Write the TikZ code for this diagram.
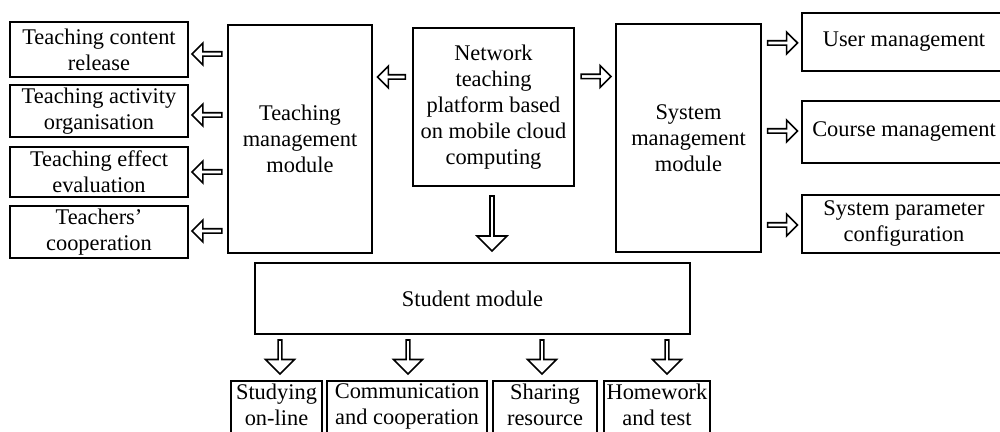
\documentclass[tikz,border=0pt]{standalone}
\usepackage{fontspec}
\setmainfont{Liberation Serif}
\usetikzlibrary{shapes.arrows,calc}
\tikzset{
  box/.style={draw, line width=0.9pt, align=center, inner sep=1pt,
    font=\fontsize{11.2}{13}\selectfont},
  leaf/.style={box, anchor=north, inner ysep=1.5pt, text depth=22pt},
  harrow/.style={draw, line width=0.8pt, single arrow, inner sep=0pt,
    single arrow head indent=0pt, minimum height=15pt, minimum width=11pt,
    single arrow head extend=1.6pt},
  varrow/.style={harrow, minimum height=17pt, minimum width=14.5pt,
    single arrow head extend=2.6pt},
}
\begin{document}
\begin{tikzpicture}[x=0.5pt,y=-0.5pt]
  \clip (0,0) rectangle (1000,432);
  % platform
  \node[box, minimum width=80.5pt, minimum height=79pt] (net) at (493.5,107)
    {Network\\teaching\\platform based\\on mobile cloud\\computing};
  % teaching management
  \node[box, minimum width=72pt, minimum height=114pt] (tm) at (300,139)
    {Teaching\\management\\module};
  \node[box, minimum width=89pt, minimum height=27.5pt] (tc1) at (99,49.5) {Teaching content\\release};
  \node[box, minimum width=89pt, minimum height=26pt] (tc2) at (99,111) {Teaching activity\\organisation};
  \node[box, minimum width=89pt, minimum height=25pt] (tc3) at (99,172) {Teaching effect\\evaluation};
  \node[box, minimum width=89pt, minimum height=26pt] (tc4) at (99,232) {Teachers’\\cooperation};
  % system management
  \node[box, minimum width=72.5pt, minimum height=114pt] (sm) at (688.5,138)
    {System\\management\\module};
  \node[box, minimum width=102pt, minimum height=29pt] (sc1) at (904,42) {User management};
  \node[box, minimum width=102pt, minimum height=31pt] (sc2) at (904,132) {Course management};
  \node[box, minimum width=102pt, minimum height=29pt] (sc3) at (904,224) {System parameter\\configuration};
  % student
  \node[box, minimum width=217.5pt, minimum height=35.5pt] (st) at (472.5,298.5) {Student module};
  \node[leaf, minimum width=45.5pt] (sd1) at (276.5,380) {Studying\\on-line};
  \node[leaf, minimum width=80pt] (sd2) at (407,380) {Communication\\and cooperation};
  \node[leaf, minimum width=52pt] (sd3) at (545,380) {Sharing\\resource};
  \node[leaf, minimum width=53pt] (sd4) at (657,380) {Homework\\and test};
  % arrows
  \node[harrow, rotate=180, minimum height=14pt] (a0) at ($(tm.east)!0.5!(net.west)+(0,-46)$) {};
  \node[harrow] (a1) at ($(net.east)!0.5!(sm.west)+(0,-46)$) {};
  \node[harrow, rotate=270, minimum height=27.5pt, minimum width=15pt,
    single arrow head extend=2.6pt] (a2) at (492,222.5) {};
  \foreach \c/\dy in {tc1/4.5,tc2/4,tc3/0,tc4/-1}
    \node[harrow, rotate=180] at ($(\c.east)!0.5!(tm.west |- \c.east)+(0,\dy)$) {};
  \foreach \c/\dy in {sc1/1,sc2/-1,sc3/1}
    \node[harrow] at ($(sm.east |- \c.west)!0.5!(\c.west)+(0,\dy)$) {};
  \foreach \c/\x in {sd1/280,sd2/408,sd3/542,sd4/667}
    \node[varrow, rotate=270] at (\x,356) {};
\end{tikzpicture}
\end{document}
